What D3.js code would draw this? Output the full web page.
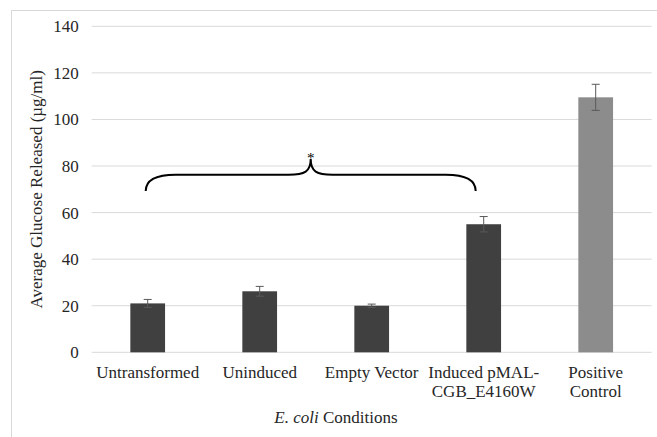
<!DOCTYPE html>
<html>
<head>
<meta charset="utf-8">
<script src="https://cdn.jsdelivr.net/npm/d3@7"></script>
<style>
  body { margin: 0; background: #fff; }
  svg text { font-family: 'Liberation Serif', 'DejaVu Serif', serif; }
</style>
</head>
<body>
<div id="chart"></div>
<script>
const categories = ["Untransformed", "Uninduced", "Empty Vector", "Induced pMAL-|CGB_E4160W", "Positive|Control"];
const values = [21.0, 26.2, 20.0, 55.0, 109.5];
const errors = [1.7, 2.1, 0.7, 3.3, 5.6];
const barColors = ["#404040", "#404040", "#404040", "#404040", "#8c8c8c"];
const yTicks = [0, 20, 40, 60, 80, 100, 120, 140];

const W = 657, H = 437;
const margin = { top: 26.3, right: 5.3, bottom: 84.7, left: 91.7 };
const width = W - margin.left - margin.right;
const height = H - margin.top - margin.bottom;

const svg = d3.select("#chart").append("svg")
    .attr("width", W)
    .attr("height", H);

// outer chart border
svg.append("rect")
    .attr("x", 11.5).attr("y", 10.5)
    .attr("width", W).attr("height", H)
    .attr("fill", "none")
    .attr("stroke", "#d9d9d9");

const g = svg.append("g")
    .attr("transform", `translate(${margin.left},${margin.top})`);

let x = d3.scaleBand().domain(categories).range([0, width]).paddingInner(0.69).paddingOuter(0.345);
let y = d3.scaleLinear().domain([0, 140]).range([height, 0]);

// gridlines
g.selectAll(".grid").data(yTicks).enter().append("line")
    .attr("x1", 0).attr("x2", width)
    .attr("y1", d => y(d)).attr("y2", d => y(d))
    .attr("stroke", "#d9d9d9")
    .attr("stroke-width", 1);

// y axis labels
const yAxis = g.append("g")
    .call(d3.axisLeft(y).tickValues(yTicks).tickSize(0).tickPadding(13));
yAxis.attr("font-family", null);
yAxis.select(".domain").remove();
yAxis.selectAll("text")
    .attr("font-size", 17)
    .attr("fill", "#262626");

// bars
g.selectAll(".bar").data(categories).enter().append("rect")
    .attr("x", d => x(d))
    .attr("width", x.bandwidth())
    .attr("y", (d, i) => y(values[i]))
    .attr("height", (d, i) => y(0) - y(values[i]))
    .attr("fill", (d, i) => barColors[i]);

// error bars
const eb = g.selectAll(".err").data(categories).enter().append("g")
    .attr("stroke", "#595959")
    .attr("stroke-width", 1);
const cx = d => x(d) + x.bandwidth() / 2;
eb.append("line")
    .attr("x1", cx).attr("x2", cx)
    .attr("y1", (d, i) => y(values[i] + errors[i]))
    .attr("y2", (d, i) => y(values[i] - errors[i]));
eb.append("line")
    .attr("x1", d => cx(d) - 4).attr("x2", d => cx(d) + 4)
    .attr("y1", (d, i) => y(values[i] + errors[i]))
    .attr("y2", (d, i) => y(values[i] + errors[i]));
eb.append("line")
    .attr("x1", d => cx(d) - 4).attr("x2", d => cx(d) + 4)
    .attr("y1", (d, i) => y(values[i] - errors[i]))
    .attr("y2", (d, i) => y(values[i] - errors[i]));

// x labels
g.selectAll(".xlab").data(categories).enter().append("text")
    .attr("text-anchor", "middle")
    .attr("font-size", 17)
    .attr("fill", "#262626")
    .attr("transform", d => `translate(${cx(d)},${height + 26})`)
    .each(function (d) {
        const parts = d.split("|");
        d3.select(this).selectAll("tspan").data(parts).enter().append("tspan")
            .attr("x", 0)
            .attr("dy", (p, j) => j === 0 ? 0 : 18.7)
            .text(p => p);
    });

// brace annotation spanning the four E. coli conditions
const bx0 = cx(categories[0]) - 2, bx1 = cx(categories[3]) - 8;
const bm = (bx0 + bx1) / 2;
const yEnd = y(69.3), yMid = y(76.3), yTip = y(83.0);
const brace = d3.path();
brace.moveTo(bx0, yEnd);
brace.bezierCurveTo(bx0, yMid + 4, bx0 + 12, yMid, bx0 + 30, yMid);
brace.lineTo(bm - 22, yMid);
brace.bezierCurveTo(bm - 6, yMid, bm, yMid - 3, bm, yTip);
brace.bezierCurveTo(bm, yMid - 3, bm + 6, yMid, bm + 22, yMid);
brace.lineTo(bx1 - 30, yMid);
brace.bezierCurveTo(bx1 - 12, yMid, bx1, yMid + 4, bx1, yEnd);
g.append("path")
    .attr("d", brace.toString())
    .attr("fill", "none")
    .attr("stroke", "#000")
    .attr("stroke-width", 2);
g.append("text")
    .attr("x", bm).attr("y", yTip + 4)
    .attr("text-anchor", "middle")
    .attr("font-size", 15)
    .attr("fill", "#000")
    .text("*");

// axis titles
svg.append("text")
    .attr("transform", `translate(42,${margin.top + height / 2}) rotate(-90)`)
    .attr("text-anchor", "middle")
    .attr("font-size", 17)
    .attr("fill", "#262626")
    .text("Average Glucose Released (µg/ml)");

const xt = svg.append("text")
    .attr("x", 336).attr("y", 422.7)
    .attr("text-anchor", "middle")
    .attr("font-size", 17)
    .attr("fill", "#262626");
xt.append("tspan").attr("font-style", "italic").text("E. coli");
xt.append("tspan").text(" Conditions");
</script>
</body>
</html>
